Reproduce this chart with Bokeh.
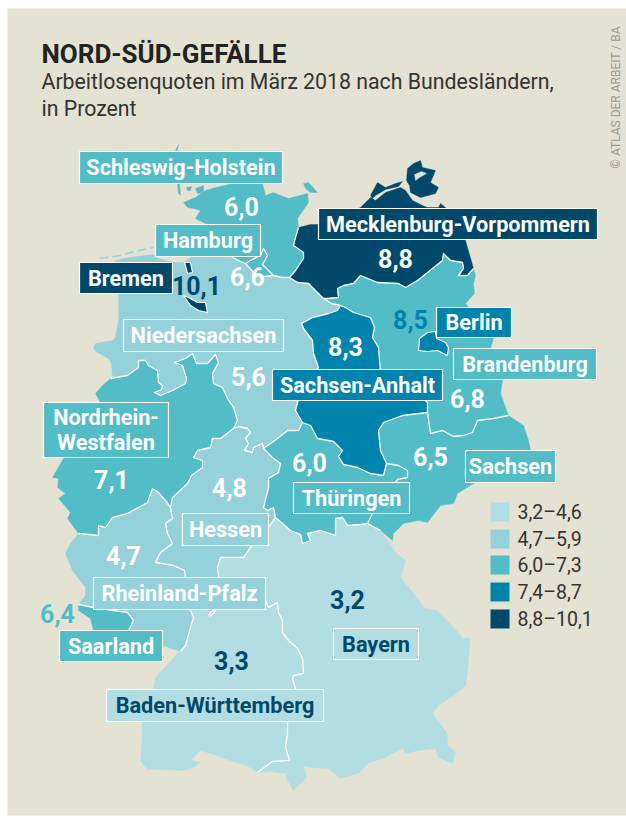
from math import pi
from bokeh.plotting import figure
from bokeh.models import Range1d
from bokeh.core.properties import value
from bokeh.embed import file_html
from bokeh.resources import INLINE

# ---------- data ----------
STATES = ["Schleswig-Holstein", "Hamburg", "Bremen", "Mecklenburg-Vorpommern", "Berlin", "Niedersachsen",
          "Brandenburg", "Sachsen-Anhalt", "Nordrhein-\nWestfalen", "Sachsen", "Thüringen", "Hessen",
          "Rheinland-Pfalz", "Saarland", "Bayern", "Baden-Württemberg"]
RATES = [6.0, 6.6, 10.1, 8.8, 8.5, 5.6, 6.8, 8.3, 7.1, 6.5, 6.0, 4.8, 4.7, 6.4, 3.2, 3.3]
LEGEND_RANGES = ["3,2–4,6", "4,7–5,9", "6,0–7,3", "7,4–8,7", "8,8–10,1"]
BIN_LOWER = [3.2, 4.7, 6.0, 7.4, 8.8]
BIN_COLORS = ["#b2dde3", "#94d1da", "#52bcc7", "#0084ae", "#00496b"]
TITLE = "NORD-SÜD-GEFÄLLE"
SUBTITLE = ["Arbeitlosenquoten im März 2018 nach Bundesländern,", "in Prozent"]
CREDIT = "© ATLAS DER ARBEIT / BA"

# map geometry: shared borders ...
B_SH_NDS_W = [(232,257),(240,261),(245,263)]
B_SH_HH = [(245,263),(250,260),(260,255),(263,248),(267,255),(262,264),(273,275)]
B_HH_NDS = [(273,275),(263,276),(253,272),(247,265),(245,263)]
B_SH_NDS_E = [(273,275),(281,277),(289,277)]
B_SH_MV = [(298,227),(295,237),(293,245),(303,252),(303,258),(295,270),(289,277)]
B_MV_NDS = [(289,277),(297,282),(308,283),(323,298)]
B_NDS_BB = [(323,298),(331,303),(340,305)]
B_MV_BB = [(323,298),(327,298),(338,297),(337,288),(343,285),(353,283),(360,275),(377,282),(398,283),(405,287),(417,280),(432,268),(442,260),(443,253),(450,260),(462,262),(463,268),(458,275),(467,275),(473,268)]
B_NDS_ST = [(340,305),(337,310),(328,313),(312,317),(301,323),(303,328),(312,340),(313,353),(318,367),(305,385),(297,402),(295,410),(302,422)]
B_ST_BB = [(340,305),(345,307),(353,312),(370,317),(374,327),(372,337),(378,347),(379,360),(380,370),(395,385),(420,395),(427,402),(427,412)]
B_ST_SN = [(427,412),(402,415),(383,422),(378,430),(380,450),(386,463)]
B_ST_TH = [(302,422),(310,425),(317,438),(333,441),(342,450),(338,456),(343,464),(357,467),(370,473),(383,475),(386,463)]
B_SN_BB = [(427,412),(430,433),(442,430),(453,436),(463,435),(472,432),(477,420),(493,418),(508,415)]
B_SN_TH = [(386,463),(398,465),(407,470),(407,477),(397,479),(385,495),(375,505),(372,513),(367,523)]
B_TH_BY = [(367,523),(360,524),(347,525),(342,517),(335,518),(335,535),(320,530),(307,533),(310,540),(302,543),(300,534),(290,530),(275,517)]
B_SN_BY = [(367,523),(380,530)]
B_NDS_TH = [(302,422),(298,430),(287,430),(277,438),(263,448)]
B_HE_TH = [(263,448),(272,457),(280,463),(278,472),(268,478),(268,487),(263,507),(267,510),(273,507),(275,517)]
B_NDS_HE = [(263,448),(262,443),(253,447),(252,452),(244,450),(248,443),(245,438),(250,432),(247,428),(238,426),(233,428)]
B_NRW_NDS = [(110,378),(127,375),(138,367),(138,360),(145,360),(148,365),(157,370),(158,382),(162,385),(161,389),(154,392),(160,395),(172,390),(185,383),(186,378),(182,365),(174,362),(185,358),(192,353),(196,363),(207,363),(215,354),(218,362),(212,373),(213,383),(222,387),(227,398),(233,407),(237,420),(233,428)]
B_NRW_HE = [(233,428),(220,438),(212,438),(210,447),(197,450),(193,457),(202,460),(202,467),(191,475),(187,483),(172,497),(170,507)]
B_NRW_RP = [(170,507),(165,500),(158,492),(152,488),(147,502),(127,513),(112,517),(105,527),(98,525),(98,535),(78,533)]
B_HE_RP = [(170,507),(172,518),(165,523),(167,533),(172,543),(160,552),(155,562),(173,565),(184,570),(185,577),(190,600),(200,603)]
B_RP_BW = [(200,603),(190,610),(193,617),(190,627),(185,645),(180,651)]
B_HE_BW = [(200,603),(212,603)]
B_HE_BY = [(212,603),(218,590),(218,577),(217,567),(220,557),(243,557),(250,547),(268,527),(275,517)]
B_BW_BY = [(212,603),(240,603),(265,600),(268,607),(277,602),(278,612),(282,620),(282,632),(288,640),(297,648),(302,658),(303,673),(293,675),(292,678),(295,688),(287,722),(287,733),(285,747),(289,760),(272,761),(257,772)]
B_RP_SL = [(78,604),(93,607),(127,612),(133,620),(128,630),(135,640)]
ENCLAVE = [(208,615),(210,612),(215,608),(214,612),(209,616)]
# ... and coasts / outer frontiers
C_SH = [(232,257),(215,240),(205,223),(195,218),(200,210),(193,208),(187,207),(183,202),(195,197),(205,190),(215,187),(233,183),(240,178),(260,178),(262,183),(265,195),(273,192),(288,198),(307,193),(308,202),(297,218),(298,227)]
C_NDS = [(110,378),(112,377),(111,363),(108,358),(95,351),(93,347),(95,343),(112,340),(115,337),(118,320),(118,297),(115,270),(115,260),(128,257),(153,254),(158,258),(172,262),(183,262),(192,256),(213,256),(232,257)]
C_MV = [(298,227),(310,224),(318,224),(340,215),(360,207),(370,197),(375,200),(385,192),(400,187),(405,190),(412,200),(422,205),(427,207),(438,207),(440,203),(445,207),(465,240),(467,247),(473,268)]
C_BB = [(473,268),(475,275),(473,283),(474,293),(465,303),(480,320),(493,338),(490,348),(502,380),(500,393),(508,415)]
C_SN = [(508,415),(523,425),(528,440),(530,450),(520,470),(473,483),(457,493),(453,503),(440,505),(427,522),(418,520),(403,523),(393,533),(392,540),(380,530)]
C_NRW = [(78,533),(67,518),(70,512),(58,498),(65,493),(57,487),(58,478),(52,477),(63,458),(80,430),(100,402),(95,393),(102,385),(110,378)]
C_RP_W = [(78,604),(85,595),(85,587),(72,570),(65,553),(70,543),(78,533)]
C_RP_S = [(180,651),(162,645),(135,640)]
C_SL = [(135,640),(100,642),(93,630),(90,618),(78,610),(78,604)]
C_BW = [(257,772),(250,767),(230,760),(210,753),(200,750),(190,760),(200,762),(193,767),(183,770),(163,769),(147,769),(140,760),(142,733),(142,720),(153,688),(155,677),(168,663),(178,652),(180,651)]
C_BY = [(380,530),(387,540),(395,552),(405,560),(400,577),(413,593),(425,608),(437,610),(453,627),(463,638),(470,638),(467,670),(465,685),(453,695),(438,705),(432,713),(447,733),(447,745),(455,752),(452,763),(438,757),(435,748),(418,750),(405,753),(402,747),(383,758),(368,762),(358,773),(340,778),(328,768),(310,767),(303,765),(306,777),(293,790),(287,780),(285,773),(270,771),(257,772)]
# separate shapes
BREMERHAVEN = [(184,262),(190,262),(192,272),(187,273)]
BREMEN = [(183,295),(188,297),(197,302),(205,302),(207,312),(198,310),(190,305)]
BERLIN = [(418,350),(419,338),(427,332),(435,331),(436,338),(445,342),(448,347),(447,355),(437,350),(427,351)]
FEHMARN = [(303,183),(308,182),(317,192),(310,192),(305,188)]
SH_ISLES = [[(175,150),(178,144),(177,150)],[(177,183),(179,183),(180,195),(178,193)],[(186,187),(191,186),(190,190),(187,190)],[(195,188),(203,185),(203,192),(197,193)]]
DARSS = [(370,195),(377,182),(385,187),(395,183),(402,181),(398,186),(385,189),(375,195),(372,198)]
RUEGEN = [(406,180),(407,168),(413,163),(420,160),(422,167),(435,170),(430,182),(438,187),(435,193),(428,195),(420,197),(410,192),(409,185)]
RUEGEN_BAY = [(414,174),(421,171),(426,173),(419,177),(415,180)]
FRISIAN = [(99,258),(120,255),(130,252),(153,247)]

def r(a):
    return a[::-1]

RINGS = {
    "Schleswig-Holstein": [C_SH + B_SH_MV + r(B_SH_NDS_E) + r(B_SH_HH) + r(B_SH_NDS_W), FEHMARN] + SH_ISLES,
    "Hamburg": [B_SH_HH + B_HH_NDS],
    "Niedersachsen": [C_NDS + B_SH_NDS_W + r(B_HH_NDS) + B_SH_NDS_E + B_MV_NDS + B_NDS_BB + B_NDS_ST + B_NDS_TH + B_NDS_HE + r(B_NRW_NDS)],
    "Mecklenburg-Vorpommern": [C_MV + r(B_MV_BB) + r(B_MV_NDS) + r(B_SH_MV), DARSS, RUEGEN],
    "Brandenburg": [B_MV_BB + C_BB + r(B_SN_BB) + r(B_ST_BB) + r(B_NDS_BB)],
    "Sachsen-Anhalt": [B_ST_BB + B_ST_SN + r(B_ST_TH) + r(B_NDS_ST)],
    "Sachsen": [B_SN_BB + C_SN + r(B_SN_BY) + r(B_SN_TH) + r(B_ST_SN)],
    "Thüringen": [B_ST_TH + B_SN_TH + B_TH_BY + r(B_HE_TH) + r(B_NDS_TH)],
    "Hessen": [r(B_NDS_HE) + B_HE_TH + r(B_HE_BY) + r(B_HE_BW) + r(B_HE_RP) + r(B_NRW_HE)],
    "Nordrhein-\nWestfalen": [B_NRW_NDS + B_NRW_HE + B_NRW_RP + C_NRW],
    "Rheinland-Pfalz": [r(B_NRW_RP) + B_HE_RP + B_RP_BW + C_RP_S + r(B_RP_SL) + C_RP_W],
    "Saarland": [B_RP_SL + C_SL],
    "Baden-Württemberg": [B_HE_BW + B_BW_BY + C_BW + r(B_RP_BW)],
    "Bayern": [B_HE_BY + r(B_TH_BY) + B_SN_BY + C_BY + r(B_BW_BY)],
}
BORDERS = [B_SH_NDS_W, B_SH_HH, B_HH_NDS, B_SH_NDS_E, B_SH_MV, B_MV_NDS, B_NDS_BB, B_MV_BB, B_NDS_ST, B_ST_BB, B_ST_SN,
           B_ST_TH, B_SN_BB, B_SN_TH, B_TH_BY, B_SN_BY, B_NDS_TH, B_HE_TH, B_NDS_HE, B_NRW_NDS, B_NRW_HE, B_NRW_RP,
           B_HE_RP, B_RP_BW, B_HE_BW, B_HE_BY, B_BW_BY, B_RP_SL, ENCLAVE]

# ---------- layout ----------
W, H = 626, 816
PANEL = "#e4e2d2"
BODY = "Roboto"
BOXES = {
    "Schleswig-Holstein": (79,151,282,183), "Hamburg": (155,224,260,256), "Bremen": (79,262,172,293),
    "Mecklenburg-Vorpommern": (318,208,597,239), "Berlin": (436,307,511,337), "Niedersachsen": (123,319,283,351),
    "Brandenburg": (453,348,596,379), "Sachsen-Anhalt": (272,369,442,400), "Nordrhein-\nWestfalen": (43,402,168,457),
    "Sachsen": (465,450,555,482), "Thüringen": (293,482,409,513), "Hessen": (182,513,268,545),
    "Rheinland-Pfalz": (93,577,265,609), "Saarland": (59,630,162,661), "Bayern": (333,628,418,659),
    "Baden-Württemberg": (106,689,323,721),
}
VALUE_POS = {
    "Schleswig-Holstein": (241,206), "Hamburg": (247,276), "Bremen": (196,285), "Mecklenburg-Vorpommern": (395,258),
    "Berlin": (410,319), "Niedersachsen": (248,376), "Brandenburg": (467,398), "Sachsen-Anhalt": (345,346),
    "Nordrhein-\nWestfalen": (111,479), "Sachsen": (430,456), "Thüringen": (309,462), "Hessen": (229,487),
    "Rheinland-Pfalz": (123,555), "Saarland": (57,613), "Bayern": (347,599), "Baden-Württemberg": (231,660),
}
VALUE_COLOR_OVERRIDE = {"Bremen": BIN_COLORS[4], "Berlin": BIN_COLORS[3], "Saarland": BIN_COLORS[2],
                        "Bayern": BIN_COLORS[4], "Baden-Württemberg": BIN_COLORS[4]}
DARK_LABEL = {"Bayern", "Baden-Württemberg"}

def bin_color(v):
    c = BIN_COLORS[0]
    for lo, col in zip(BIN_LOWER, BIN_COLORS):
        if v >= lo:
            c = col
    return c

COLOR = dict(zip(STATES, [bin_color(v) for v in RATES]))
RATE = dict(zip(STATES, RATES))

p = figure(width=W, height=H, output_backend="svg", toolbar_location=None,
           x_range=Range1d(0, W), y_range=Range1d(H, 0),
           x_axis_type=None, y_axis_type=None, min_border=0, outline_line_color=None,
           background_fill_color="white", border_fill_color="white")
p.grid.visible = False
p.quad(left=7, right=W, top=8, bottom=815, fill_color=PANEL, line_color=None)

xs, ys, cols = [], [], []
for name, rings in RINGS.items():
    for ring in rings:
        xs.append([q[0] for q in ring]); ys.append([q[1] for q in ring]); cols.append(COLOR[name])
p.patches(xs, ys, fill_color=cols, line_color=cols, line_width=0.4)
p.patches([[q[0] for q in RUEGEN_BAY]], [[q[1] for q in RUEGEN_BAY]], fill_color=PANEL, line_color=PANEL, line_width=0.4)
p.line([q[0] for q in FRISIAN], [q[1] for q in FRISIAN], line_color=BIN_COLORS[1], line_width=1.5, line_dash="9 4")
p.multi_line([[q[0] for q in b] for b in BORDERS], [[q[1] for q in b] for b in BORDERS],
             line_color="white", line_width=1.3, line_join="round")

for name, shape in (("Bremen", BREMERHAVEN), ("Bremen", BREMEN), ("Berlin", BERLIN)):
    p.patch([q[0] for q in shape], [q[1] for q in shape], fill_color=COLOR[name], line_color="white", line_width=1.2)

for name, (l, t, rr, b) in BOXES.items():
    p.quad(left=l, right=rr, top=t, bottom=b, fill_color=COLOR[name], line_color="white", line_width=1.2)

def txt(x, y, s, size, color, style="normal", align="center", baseline="middle", angle=0.0, font=BODY):
    p.text(x=[x], y=[y], text=[s], text_font=value(font), text_font_size=size, text_color=color,
           text_font_style=style, text_align=align, text_baseline=baseline, angle=angle)

for name, (l, t, rr, b) in BOXES.items():
    c = BIN_COLORS[4] if name in DARK_LABEL else "white"
    parts = name.split("\n")
    if len(parts) == 1:
        txt((l + rr) / 2, (t + b) / 2, name, "21.7px", c, "bold")
    else:
        txt((l + rr) / 2, t + 15, parts[0], "21.7px", c, "bold")
        txt((l + rr) / 2, t + 40, parts[1], "21.7px", c, "bold")

for name, (x, y) in VALUE_POS.items():
    txt(x, y, f"{RATE[name]:.1f}".replace(".", ","), "25px", VALUE_COLOR_OVERRIDE.get(name, "white"), "bold")

txt(41, 53, TITLE, "26px", "#222222", "bold", align="left")
txt(41, 81, SUBTITLE[0], "21.3px", "#333333", align="left")
txt(41, 108, SUBTITLE[1], "21.3px", "#333333", align="left")
txt(615, 168, CREDIT, "12px", "#9a9a94", align="left", angle=pi / 2)

LEG_TOPS = [502, 529, 555, 582, 609]
for top, lab, col in zip(LEG_TOPS, LEGEND_RANGES, BIN_COLORS):
    p.quad(left=490, right=509, top=top, bottom=top + 19, fill_color=col, line_color=None)
    txt(517, top + 10, lab, "19.5px", "#333333", align="left")

open("out.html", "w").write(file_html(p, INLINE))
